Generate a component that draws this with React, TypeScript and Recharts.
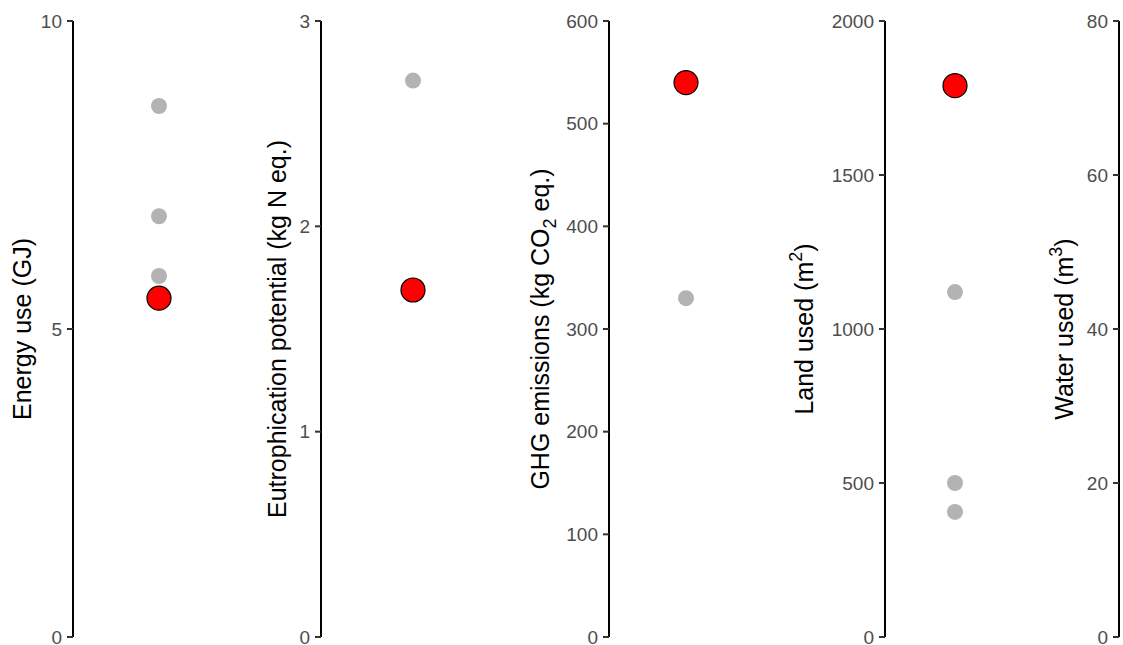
import { ScatterChart, Scatter, XAxis, YAxis } from 'recharts'

// values; "focus" is the red point, "others" the grey ones
const energyOthers = [8.62, 6.83, 5.86]
const energyFocus = [5.5]
const eutroOthers = [2.71]
const eutroFocus = [1.69]
const ghgOthers = [330]
const ghgFocus = [540]
const landOthers = [1120, 500, 406]
const landFocus = [1790]
const waterOthers: number[] = []
const waterFocus: number[] = []

const energyTicks = [0, 5, 10]
const eutroTicks = [0, 1, 2, 3]
const ghgTicks = [0, 100, 200, 300, 400, 500, 600]
const landTicks = [0, 500, 1000, 1500, 2000]
const waterTicks = [0, 20, 40, 60, 80]

type Part = { text: string; shift?: 'sub' | 'sup' }

const panels = [
  { others: energyOthers, focus: energyFocus, ticks: energyTicks, left: 1, axisX: 73, dotX: 159,
    title: [{ text: 'Energy use (GJ)' }] as Part[] },
  { others: eutroOthers, focus: eutroFocus, ticks: eutroTicks, left: 256, axisX: 321, dotX: 413,
    title: [{ text: 'Eutrophication potential (kg N eq.)' }] as Part[] },
  { others: ghgOthers, focus: ghgFocus, ticks: ghgTicks, left: 519, axisX: 609, dotX: 686,
    title: [{ text: 'GHG emissions (kg CO' }, { text: '2', shift: 'sub' }, { text: ' eq.)' }] as Part[] },
  { others: landOthers, focus: landFocus, ticks: landTicks, left: 783, axisX: 885, dotX: 955,
    title: [{ text: 'Land used (m' }, { text: '2', shift: 'sup' }, { text: ')' }] as Part[] },
  { others: waterOthers, focus: waterFocus, ticks: waterTicks, left: 1043, axisX: 1119, dotX: 1169,
    title: [{ text: 'Water used (m' }, { text: '3', shift: 'sup' }, { text: ')' }] as Part[] },
]

const TOP = 21
const BOTTOM = 637
const FONT = '"Liberation Sans", Arial, sans-serif'

function AxisTitle({ parts, x }: { parts: Part[]; x: number }) {
  const cy = (TOP + BOTTOM) / 2
  let shift = 0
  return (
    <text
      x={x}
      y={cy}
      transform={`rotate(-90 ${x} ${cy})`}
      textAnchor="middle"
      fontSize={25}
      fontFamily={FONT}
      fill="#000"
    >
      {parts.map((p, i) => {
        const target = p.shift === 'sub' ? 7 : p.shift === 'sup' ? -11 : 0
        const dy = target - shift
        shift = target
        return (
          <tspan key={i} dy={dy} fontSize={p.shift ? 18 : 25}>
            {p.text}
          </tspan>
        )
      })}
    </text>
  )
}

const greyDot = (props: any) => <circle cx={props.cx} cy={props.cy} r={8} fill="#b3b3b3" />
const redDot = (props: any) => (
  <circle cx={props.cx} cy={props.cy} r={12} fill="#ff0000" stroke="#000" strokeWidth={1.2} />
)

export default function App() {
  return (
    <div style={{ position: 'absolute', left: 0, top: 0, width: 1123, height: 645, overflow: 'hidden', background: '#fff' }}>
      {panels.map((p, i) => {
        const axisWidth = p.axisX - p.left
        const plotWidth = 2 * (p.dotX - p.axisX)
        const max = p.ticks[p.ticks.length - 1]
        const others = p.others.map(v => ({ x: 1, y: v }))
        const focus = p.focus.map(v => ({ x: 1, y: v }))
        return (
          <div key={i} style={{ position: 'absolute', left: p.left, top: 0 }}>
            <ScatterChart
              width={axisWidth + plotWidth}
              height={645}
              margin={{ top: TOP, right: 0, bottom: 645 - BOTTOM, left: 0 }}
            >
              <XAxis type="number" dataKey="x" domain={[0, 2]} hide height={0} />
              <YAxis
                type="number"
                dataKey="y"
                domain={[0, max]}
                ticks={p.ticks}
                interval={0}
                width={axisWidth}
                allowDataOverflow
                axisLine={{ stroke: '#000', strokeWidth: 2 }}
                tickLine={{ stroke: '#333', strokeWidth: 2 }}
                tickSize={6}
                tickMargin={5}
                tick={{ fill: '#4d4d4d', fontSize: 19, fontFamily: FONT }}
                label={{ content: () => <AxisTitle parts={p.title} x={30} /> }}
              />
              <Scatter data={others} shape={greyDot} isAnimationActive={false} />
              <Scatter data={focus} shape={redDot} isAnimationActive={false} />
            </ScatterChart>
          </div>
        )
      })}
    </div>
  )
}
